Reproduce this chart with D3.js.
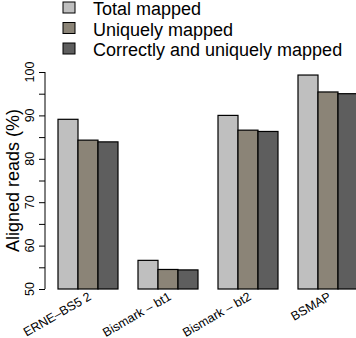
<html>
<head>
<script src="https://d3js.org/d3.v7.min.js"></script>
<style>
  body { margin: 0; background: #fff; }
  text { font-family: "Liberation Sans", Arial, sans-serif; fill: #000; }
  .axis path, .axis line { stroke: #000; fill: none; }
</style>
</head>
<body>
<svg id="chart" width="356" height="338"></svg>
<script>
const tools = ["ERNE\u2013BS5 2", "Bismark \u2013 bt1", "Bismark \u2013 bt2", "BSMAP"];
const seriesNames = ["Total mapped", "Uniquely mapped", "Correctly and uniquely mapped"];
const totalMapped = [89.1, 56.6, 90.0, 99.3];
const uniquelyMapped = [84.3, 54.5, 86.6, 95.4];
const correctlyMapped = [83.9, 54.4, 86.3, 95.0];
const yTicks = [50, 55, 60, 65, 70, 75, 80, 85, 90, 95, 100];
const yLabels = [50, 60, 70, 80, 90, 100];
const colors = ["#bfbfbf", "#8b8477", "#5e5e5e"];

const svg = d3.select("#chart");
const allSeries = [totalMapped, uniquelyMapped, correctlyMapped];

const x = d3.scaleBand().domain(tools).range([38, 378]).paddingInner(0.25).paddingOuter(0.25);
const xs = d3.scaleBand().domain(seriesNames).range([0, x.bandwidth()]);
const y = d3.scaleLinear().domain([50, 100]).range([289, 72]);

// bars
const groups = svg.append("g").selectAll("g")
  .data(tools)
  .enter().append("g")
  .attr("transform", d => "translate(" + x(d) + ",0)");

groups.selectAll("rect")
  .data((d, i) => allSeries.map((s, j) => ({name: seriesNames[j], value: s[i], c: colors[j]})))
  .enter().append("rect")
  .attr("x", d => xs(d.name))
  .attr("y", d => y(d.value))
  .attr("width", xs.bandwidth())
  .attr("height", d => y(50) - y(d.value))
  .attr("fill", d => d.c)
  .attr("stroke", "#000")
  .attr("stroke-width", 1.2);

// y axis
const yAxis = svg.append("g").attr("class", "axis")
  .attr("transform", "translate(45,0)")
  .call(d3.axisLeft(y).tickValues(yTicks).tickSize(6).tickFormat(""));
yAxis.select(".domain").attr("d", "M0," + y(50) + "V" + y(100));

svg.append("g").selectAll("text")
  .data(yLabels)
  .enter().append("text")
  .attr("transform", d => "translate(34," + y(d) + ") rotate(-90)")
  .attr("text-anchor", "middle")
  .attr("font-size", 12.5)
  .text(d => d);

svg.append("text")
  .attr("transform", "translate(19," + y(75) + ") rotate(-90)")
  .attr("text-anchor", "middle")
  .attr("font-size", 18)
  .text("Aligned reads (%)");

// x labels
svg.append("g").selectAll("text")
  .data(tools)
  .enter().append("text")
  .attr("transform", d => "translate(" + (x(d) + x.bandwidth() / 2 + 4) + ",299) rotate(-30)")
  .attr("text-anchor", "end")
  .attr("font-size", 12.5)
  .text(d => d);

// legend
const legend = svg.append("g").selectAll("g")
  .data(seriesNames)
  .enter().append("g")
  .attr("transform", (d, i) => "translate(63," + (2 + i * 20.5) + ")");

legend.append("rect")
  .attr("width", 12).attr("height", 11)
  .attr("fill", (d, i) => colors[i])
  .attr("stroke", "#000").attr("stroke-width", 1);

legend.append("text")
  .attr("x", 30).attr("y", 13)
  .attr("font-size", 18)
  .text(d => d);
</script>
</body>
</html>
